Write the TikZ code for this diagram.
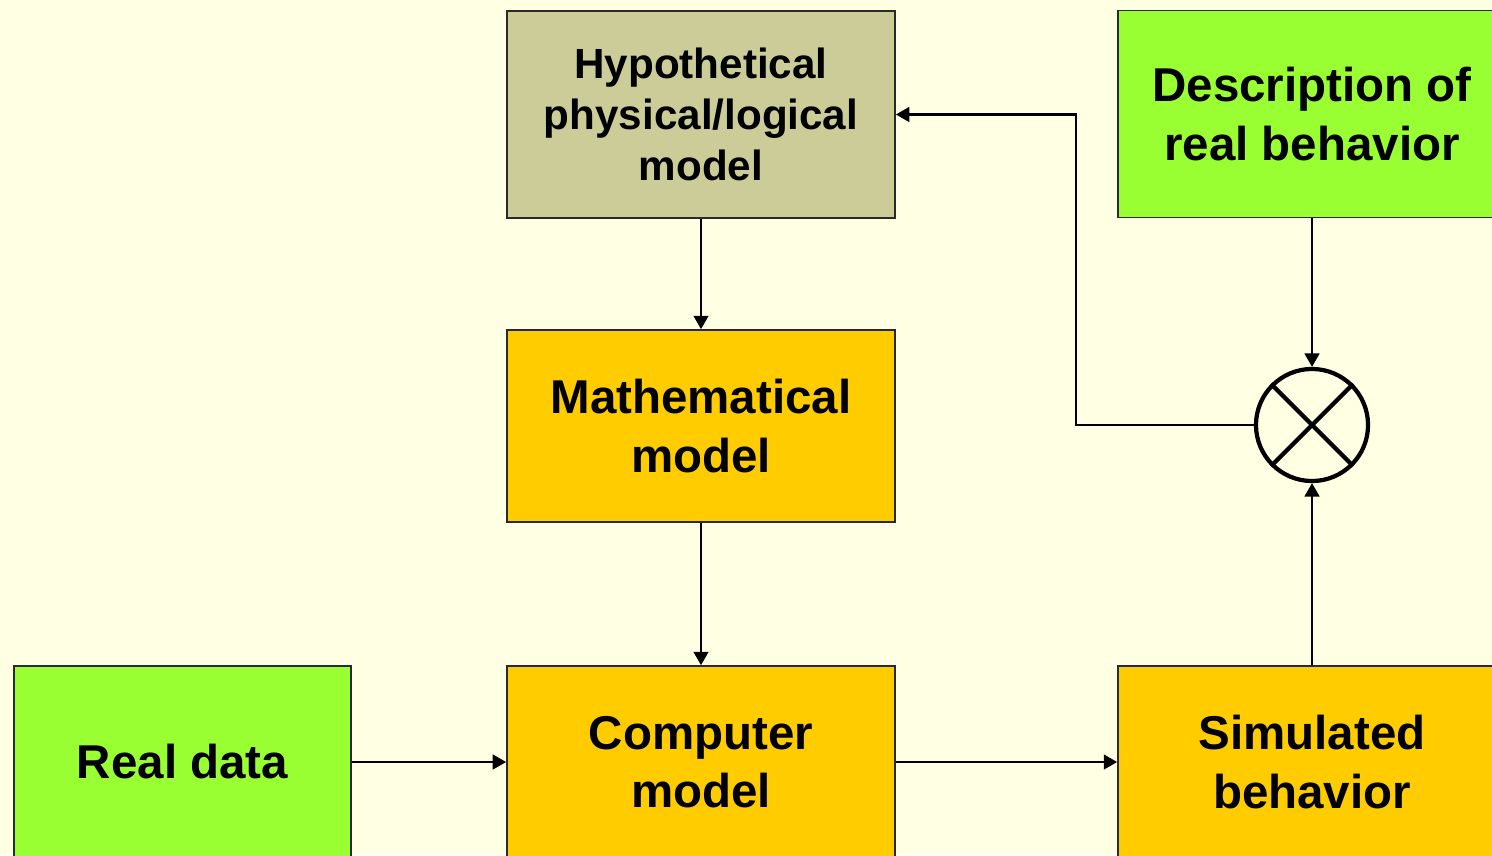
\documentclass[tikz,border=0pt]{standalone}
\usepackage{fontspec}
\setmainfont{Liberation Sans}
\usetikzlibrary{arrows.meta}
\definecolor{bgyel}{HTML}{FFFFE3}
\definecolor{khaki}{HTML}{CCCC99}
\definecolor{lgreen}{HTML}{99FF33}
\definecolor{gold}{HTML}{FFCC00}
\definecolor{rim}{HTML}{2A2A2A}
\tikzset{
  blk/.style={draw=rim,line width=0.45pt,minimum width=3.88cm,inner sep=0pt,align=center,
    font=\bfseries\fontsize{13.5}{16.6}\selectfont},
  arr/.style={line width=0.6pt,-{Triangle[length=3.8pt,width=4.2pt]}}
}
\begin{document}
\begin{tikzpicture}[x=0.01cm,y=-0.01cm]
        \useasboundingbox (0,0) rectangle (1492,855);
        \clip (0,0) rectangle (1492,855);
        \fill[bgyel] (0,0) rectangle (1492,855);
        \node[blk,fill=khaki,minimum height=2.07cm,font=\bfseries\fontsize{12}{14.5}\selectfont] (hyp) at (701,114.5) {Hypothetical\\physical/logical\\model};
        \node[blk,fill=lgreen,minimum height=2.07cm] (desc) at (1312,114) {Description of\\real behavior};
        \node[blk,fill=gold,minimum height=1.92cm] (math) at (701,426) {Mathematical\\model};
        \node[blk,fill=lgreen,minimum width=3.37cm,minimum height=1.92cm] (real) at (182.5,762) {Real data};
        \node[blk,fill=gold,minimum height=1.92cm] (comp) at (701,762) {Computer\\model};
        \node[blk,fill=gold,minimum height=1.92cm] (sim) at (1312,762) {Simulated\\behavior};
        \node[circle,draw,line width=1.2pt,minimum size=1.12cm,inner sep=0pt] (cmp) at (1312,425) {};
        \draw[line width=1.2pt] (cmp.45)--(cmp.225) (cmp.135)--(cmp.315);
        \coordinate (fb) at (1076,425);
        \draw[arr] (hyp)--(math);
        \draw[arr] (math)--(comp);
        \draw[arr] (real)--(comp);
        \draw[arr] (comp)--(sim);
        \draw[arr] (sim)--(cmp);
        \draw[arr] (desc)--(cmp);
        \draw[arr] (cmp.west)--(fb)|-(hyp.east);
\end{tikzpicture}
\end{document}
